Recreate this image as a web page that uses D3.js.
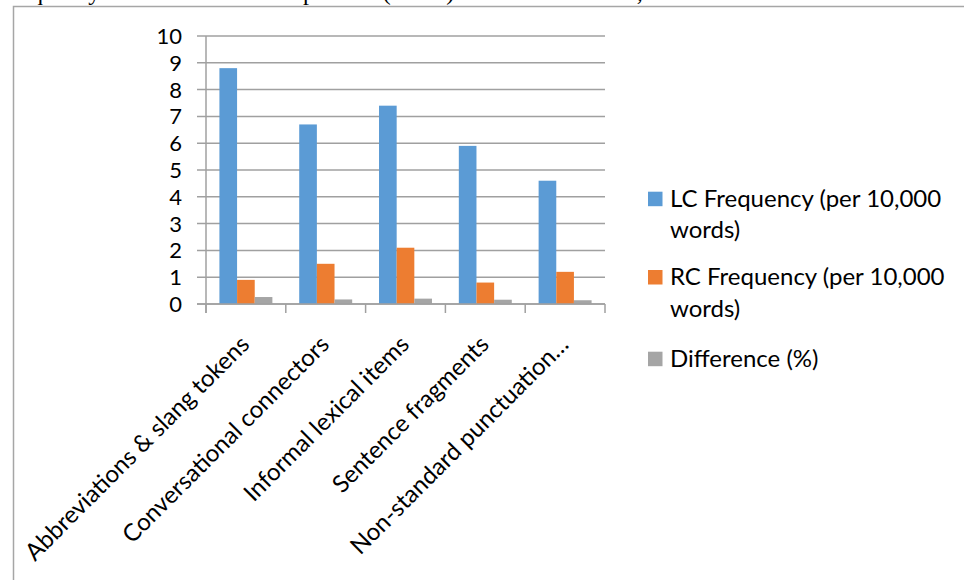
<!DOCTYPE html>
<html>
<head>
<meta charset="utf-8">
<script src="https://cdn.jsdelivr.net/npm/d3@7"></script>
<style>
  html, body { margin: 0; padding: 0; background: #fff; }
  svg { display: block; }
</style>
</head>
<body>
<svg id="chart" width="964" height="580"></svg>
<script>
// ---- data ----
const categories = [
  "Abbreviations & slang tokens",
  "Conversational connectors",
  "Informal lexical items",
  "Sentence fragments",
  "Non-standard punctuation…"
];
const seriesNames = [
  "LC Frequency (per 10,000 words)",
  "RC Frequency (per 10,000 words)",
  "Difference (%)"
];
const lcValues = [8.8, 6.7, 7.4, 5.9, 4.6];
const rcValues = [0.9, 1.5, 2.1, 0.8, 1.2];
const diffValues = [0.26, 0.17, 0.2, 0.16, 0.14];
const yTicks = [0, 1, 2, 3, 4, 5, 6, 7, 8, 9, 10];
const legendLines = [
  ["LC Frequency (per 10,000", "words)"],
  ["RC Frequency (per 10,000", "words)"],
  ["Difference (%)"]
];
const captionText = "Frequency of informal features per unit (in LC) and the RC counts, and the difference rates";

const colors = ["#5B9BD5", "#ED7D31", "#A5A5A5"];
const series = [lcValues, rcValues, diffValues];

const svg = d3.select("#chart");
const font = "Lato, 'Open Sans', sans-serif";

// caption line of the surrounding document, clipped by the top edge as in the original
svg.append("text")
  .attr("x", -1).attr("y", 0)
  .attr("font-family", "'Liberation Serif', 'Times New Roman', serif")
  .attr("font-size", 24)
  .attr("fill", "#000")
  .text(captionText);

// chart frame
svg.append("rect")
  .attr("x", 13.5).attr("y", 6.5)
  .attr("width", 1000).attr("height", 1000)
  .attr("fill", "#fff")
  .attr("stroke", "#a6a6a6")
  .attr("stroke-width", 1.5);

// scales
const plotLeft = 206, plotRight = 605, plotTop = 36, plotBottom = 304;
const x = d3.scaleBand().domain(categories).range([plotLeft, plotRight]).paddingInner(0).paddingOuter(0);
const x1 = d3.scaleBand().domain(d3.range(series.length)).range([0, x.bandwidth()]).paddingInner(0).paddingOuter(0.76);
const y = d3.scaleLinear().domain([0, 10]).range([plotBottom, plotTop]);

// gridlines
svg.append("g")
  .selectAll("line")
  .data(yTicks)
  .join("line")
  .attr("x1", plotLeft - 9).attr("x2", plotRight)
  .attr("y1", d => y(d)).attr("y2", d => y(d))
  .attr("stroke", "#a0a0a0")
  .attr("stroke-width", 1.5);

// y axis line
svg.append("line")
  .attr("x1", plotLeft).attr("x2", plotLeft)
  .attr("y1", plotTop).attr("y2", plotBottom + 9)
  .attr("stroke", "#a0a0a0").attr("stroke-width", 1.5);

// y tick labels
svg.append("g")
  .selectAll("text")
  .data(yTicks)
  .join("text")
  .attr("x", 182)
  .attr("y", d => y(d))
  .attr("dy", "0.36em")
  .attr("text-anchor", "end")
  .attr("font-family", font)
  .attr("font-size", 22)
  .attr("fill", "#000")
  .text(d => d);

// bars
const groups = svg.append("g")
  .selectAll("g")
  .data(categories)
  .join("g")
  .attr("transform", d => `translate(${x(d)},0)`);

groups.selectAll("rect")
  .data((d, i) => series.map((s, k) => ({ k, v: s[i] })))
  .join("rect")
  .attr("x", d => x1(d.k))
  .attr("width", x1.bandwidth())
  .attr("y", d => y(d.v))
  .attr("height", d => y(0) - y(d.v))
  .attr("fill", d => colors[d.k]);

// x axis baseline and ticks
svg.append("line")
  .attr("x1", plotLeft - 9).attr("x2", plotRight)
  .attr("y1", plotBottom).attr("y2", plotBottom)
  .attr("stroke", "#a0a0a0").attr("stroke-width", 1.5);

const tickPositions = categories.map(c => x(c)).concat([plotRight]);
svg.append("g")
  .selectAll("line")
  .data(tickPositions)
  .join("line")
  .attr("x1", d => d).attr("x2", d => d)
  .attr("y1", plotBottom).attr("y2", plotBottom + 9)
  .attr("stroke", "#a0a0a0").attr("stroke-width", 1.5);

// x labels rotated
svg.append("g")
  .selectAll("text")
  .data(categories)
  .join("text")
  .attr("transform", d => `translate(${x(d) + x.bandwidth() / 2 + 5},346) rotate(-45)`)
  .attr("text-anchor", "end")
  .attr("font-family", font)
  .attr("font-size", 24)
  .attr("fill", "#000")
  .text(d => d);

// legend
const legendTops = [206.7, 285, 366.7];
const legend = svg.append("g");
legendLines.forEach((lines, i) => {
  legend.append("rect")
    .attr("x", 648).attr("y", legendTops[i] - 15)
    .attr("width", 14.5).attr("height", 14.5)
    .attr("fill", colors[i]);
  const t = legend.append("text")
    .attr("font-family", font)
    .attr("font-size", 24)
    .attr("fill", "#000");
  lines.forEach((ln, j) => {
    t.append("tspan")
      .attr("x", 670)
      .attr("y", legendTops[i] + j * 31.5)
      .text(ln);
  });
});
</script>
</body>
</html>
